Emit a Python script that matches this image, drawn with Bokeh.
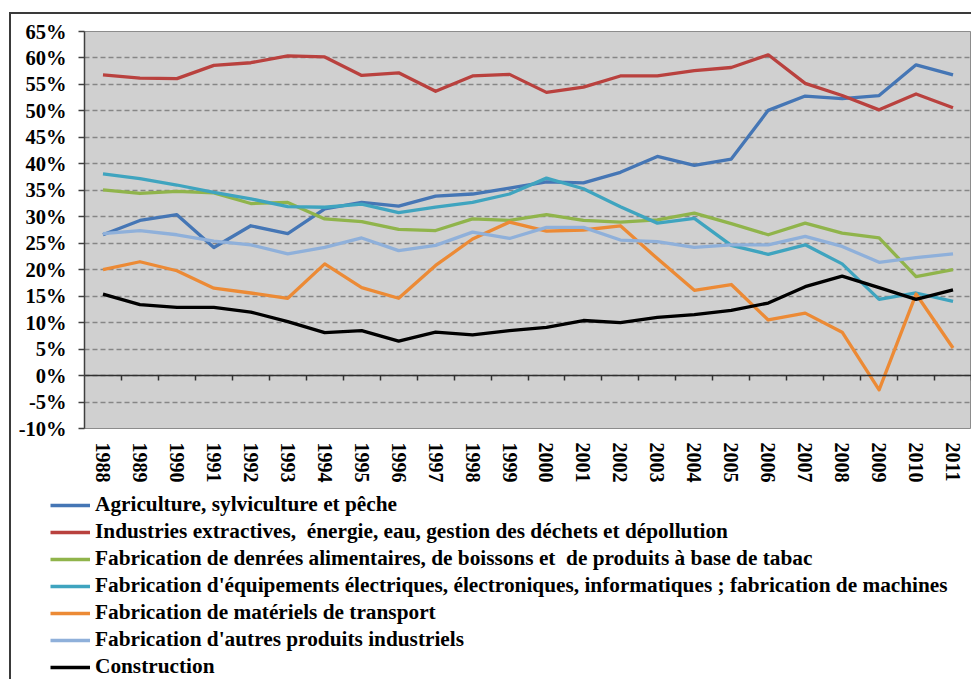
from bokeh.plotting import figure
from bokeh.layouts import column
from bokeh.models import (Range1d, FixedTicker, PrintfTickFormatter, LinearAxis,
                          Legend, LegendItem, ColumnDataSource)
from bokeh.embed import file_html
from bokeh.resources import INLINE

years = list(range(1988, 2012))
year_labels = [str(y) for y in years]

agriculture = [26.6, 29.3, 30.4, 24.2, 28.3, 26.8, 31.5, 32.7, 32.0, 33.9, 34.3, 35.4,
               36.6, 36.4, 38.4, 41.4, 39.7, 40.9, 50.1, 52.8, 52.3, 52.9, 58.7, 56.8]
extractives = [56.8, 56.2, 56.1, 58.6, 59.1, 60.4, 60.2, 56.7, 57.2, 53.7, 56.6, 56.9,
               53.5, 54.5, 56.6, 56.6, 57.6, 58.2, 60.6, 55.2, 52.9, 50.2, 53.2, 50.6]
alimentaire = [35.1, 34.4, 34.8, 34.5, 32.5, 32.7, 29.6, 29.1, 27.6, 27.4, 29.6, 29.3,
               30.4, 29.3, 29.0, 29.4, 30.7, 28.7, 26.6, 28.8, 26.9, 26.0, 18.7, 20.0]
electrique = [38.1, 37.2, 36.0, 34.6, 33.4, 31.9, 31.8, 32.4, 30.8, 31.8, 32.7, 34.3,
              37.3, 35.3, 31.9, 28.8, 29.7, 24.6, 22.9, 24.7, 21.1, 14.4, 15.6, 14.0]
transport = [20.0, 21.5, 19.8, 16.5, 15.6, 14.6, 21.1, 16.6, 14.6, 20.8, 25.8, 29.0,
             27.3, 27.5, 28.3, 22.1, 16.1, 17.2, 10.5, 11.8, 8.2, -2.7, 15.4, 5.2]
autres = [26.8, 27.4, 26.6, 25.4, 24.7, 23.0, 24.2, 26.0, 23.6, 24.6, 27.1, 25.9,
          28.0, 28.0, 25.6, 25.3, 24.2, 24.7, 24.7, 26.3, 24.4, 21.4, 22.3, 23.0]
construction = [15.4, 13.4, 12.9, 12.9, 12.0, 10.2, 8.1, 8.5, 6.5, 8.2, 7.7, 8.5,
                9.1, 10.4, 10.0, 11.0, 11.5, 12.3, 13.7, 16.8, 18.8, 16.6, 14.4, 16.2]

series_names = [
    "Agriculture, sylviculture et pêche",
    "Industries extractives,  énergie, eau, gestion des déchets et dépollution",
    "Fabrication de denrées alimentaires, de boissons et  de produits à base de tabac",
    "Fabrication d'équipements électriques, électroniques, informatiques ; fabrication de machines",
    "Fabrication de matériels de transport",
    "Fabrication d'autres produits industriels",
    "Construction",
]
series_values = [agriculture, extractives, alimentaire, electrique, transport, autres, construction]
colors = ["#4576B5", "#B9413E", "#90B44B", "#3FA4BF", "#EC8A35", "#8FB0DA", "#000000"]

y_ticks = list(range(-10, 70, 5))
bounds = [y + 0.5 for y in years]

FONT = "Liberation Serif"
W = 960

p = figure(width=W, height=479, output_backend="svg", toolbar_location=None,
           x_range=Range1d(years[0] - 0.5, years[-1] + 0.5), y_range=Range1d(-10, 65),
           min_border_left=73, min_border_right=0, min_border_top=17, min_border_bottom=65,
           background_fill_color="#D0D0D0", border_fill_color="white", frame_align=False)

p.outline_line_color = "#8C8C8C"
p.outline_line_width = 1

# y axis
yax = p.yaxis[0]
yax.ticker = FixedTicker(ticks=y_ticks)
yax.formatter = PrintfTickFormatter(format="%d%%")
yax.major_label_text_font = FONT
yax.major_label_text_font_style = "bold"
yax.major_label_text_font_size = "20.5px"
yax.major_label_text_color = "black"
yax.axis_line_color = "#404040"
yax.axis_line_width = 1.5
yax.major_tick_line_color = "#404040"
yax.major_tick_line_width = 1.5
yax.major_tick_out = 6
yax.major_tick_in = 0
yax.minor_tick_line_color = None
yax.major_label_standoff = 12

# x axis (year labels)
xax = p.xaxis[0]
xax.ticker = FixedTicker(ticks=years)
xax.major_label_overrides = {y: s for y, s in zip(years, year_labels)}
xax.major_label_orientation = "vertical"
xax.major_label_text_font = FONT
xax.major_label_text_font_style = "bold"
xax.major_label_text_font_size = "20px"
xax.major_label_text_color = "black"
xax.axis_line_color = None
xax.major_tick_line_color = None
xax.minor_tick_line_color = None
xax.major_label_standoff = 8

# zero axis with category ticks
zero_axis = LinearAxis(fixed_location=0, ticker=FixedTicker(ticks=bounds),
                       major_label_text_font_size="0px", major_label_text_alpha=0,
                       axis_line_color="#303030", axis_line_width=1.5,
                       major_tick_line_color="#303030", major_tick_line_width=1.5,
                       major_tick_in=5, major_tick_out=0, minor_tick_line_color=None,
                       major_label_standoff=0)
p.add_layout(zero_axis, "above")

p.xgrid.visible = False
p.ygrid.ticker = FixedTicker(ticks=y_ticks)
p.ygrid.grid_line_color = "#868686"
p.ygrid.grid_line_width = 1.5
p.ygrid.grid_line_dash = "5 3"

# legend figure below the chart
pl = figure(width=W, height=186, output_backend="svg", toolbar_location=None,
            x_range=Range1d(0, 1), y_range=Range1d(0, 1),
            min_border_left=0, min_border_right=0, min_border_top=0, min_border_bottom=0,
            x_axis_type=None, y_axis_type=None, border_fill_color="white",
            background_fill_color="white", frame_align=False)
pl.outline_line_color = None
pl.grid.visible = False

items = []
for name, vals, col in zip(series_names, series_values, colors):
    src = ColumnDataSource(dict(x=years, y=vals))
    p.line("x", "y", source=src, line_color=col, line_width=3.3, line_join="round")
    r = pl.line("x", "y", source=src, line_color=col, line_width=3.5)
    items.append(LegendItem(label=name, renderers=[r]))

legend = Legend(items=items, location=(39, 0), padding=0, margin=0,
                glyph_width=40, glyph_height=24, label_height=24, label_standoff=5,
                spacing=2, border_line_alpha=0, background_fill_alpha=0,
                label_text_font=FONT, label_text_font_style="bold",
                label_text_font_size="21.3px", label_text_color="black")
pl.add_layout(legend, "center")

layout = column(p, pl, spacing=0,
                styles={"border-top": "2px solid #3A3A3A", "border-left": "2px solid #3A3A3A",
                        "margin-top": "12px", "margin-left": "9px"})

open("out.html", "w").write(file_html(layout, INLINE))
